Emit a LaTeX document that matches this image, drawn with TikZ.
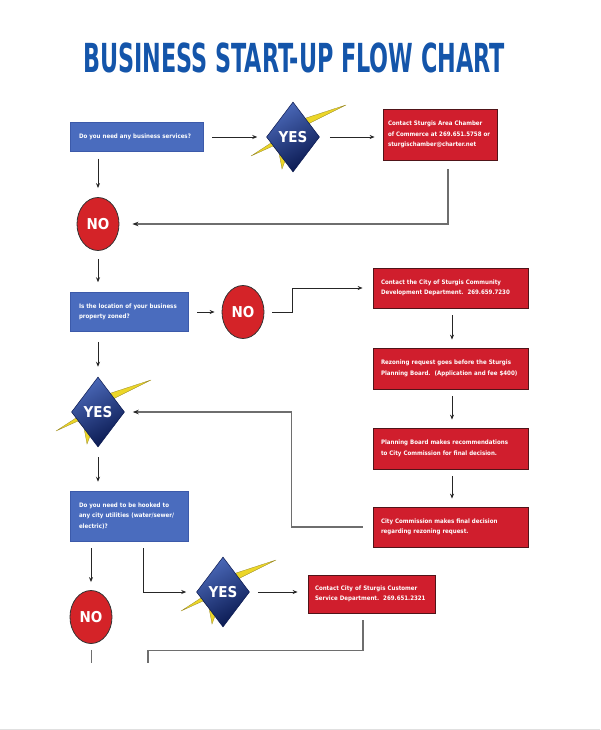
\documentclass[tikz,border=0pt]{standalone}
\usepackage{fontspec}
\setmainfont{DejaVu Sans Condensed}
\newfontfamily\titlefont[FakeStretch=0.62]{DejaVu Sans Condensed}
\usepackage{xcolor}
\usepackage{tikz}
\usetikzlibrary{arrows.meta}
\usetikzlibrary{positioning}
\usetikzlibrary{calc}
\usetikzlibrary{shapes.geometric}

\definecolor{titleblue}{RGB}{20,85,170}
\definecolor{qblue}{RGB}{74,108,190}
\definecolor{qedge}{RGB}{60,90,170}
\definecolor{cred}{RGB}{208,30,45}
\definecolor{cedge}{RGB}{80,20,25}
\definecolor{nored}{RGB}{212,35,40}
\definecolor{dialight}{RGB}{75,105,185}
\definecolor{diadark}{RGB}{10,25,80}
\definecolor{boltyellow}{RGB}{236,214,40}
\definecolor{boltedge}{RGB}{150,135,40}
\definecolor{backgray}{RGB}{110,110,110}

\begin{document}
\begin{tikzpicture}[x=1pt, y=-1pt,
		boxtext/.style={font=\bfseries\fontsize{6.1}{10.5}\selectfont, text=white, align=left, inner ysep=0pt},
		qbox/.style={boxtext, rectangle, draw=qedge, line width=0.5pt, fill=qblue, inner xsep=9pt},
		cbox/.style={boxtext, rectangle, draw=cedge, line width=0.8pt, fill=cred, inner xsep=8pt},
		nocirc/.style={ellipse, draw=black!80, line width=0.8pt, fill=nored, text=white, minimum width=42pt, minimum height=53pt, inner sep=0pt, font=\bfseries\fontsize{15}{15}\selectfont},
		yesdia/.style={diamond, draw=diadark, line width=0.5pt, top color=dialight, bottom color=diadark, shading angle=30, minimum width=53pt, minimum height=70pt, inner sep=0pt, text=white, font=\bfseries\fontsize{15}{15}\selectfont},
		bolt/.style={fill=boltyellow, draw=boltedge, line width=0.3pt},
		arr/.style={-{Stealth[length=5pt,width=4pt]}, line width=0.8pt, draw=black!85},
		back/.style={line width=1.2pt, draw=backgray},
		backarr/.style={back, -{Stealth[length=6pt,width=4.5pt,color=black!85]}}]
	\useasboundingbox (0,0) rectangle (600,730);

	\node[font=\titlefont\bfseries\fontsize{40}{40}\selectfont, text=titleblue] (title) at (294,57.5) {BUSINESS START-UP FLOW CHART};

	\foreach \iDia/\px/\py in {yes1/293/137, yes2/98/412, yes3/223/592}
	{
		\fill[bolt, shift={(\px,\py)}] (53,-32) -- (13,-19) -- (-22,6) -- (-42,19) -- (-20,9) -- (-14,16) -- (-11,32) -- (-8,24) -- (17,-14) -- cycle;
		\node[yesdia] (\iDia) at (\px,\py) {YES};
	}

	\node[qbox, text width=115pt, minimum height=29pt] (q1) at (136.5,137) {Do you need any business services?};
	\node[qbox, text width=100pt, minimum height=39pt] (q2) at (129,312) {Is the location of your business\\ property zoned?};
	\node[qbox, text width=100pt, minimum height=50pt] (q3) at (129,516) {Do you need to be hooked to\\ any city utilities (water/sewer/\\ electric)?};

	\node[nocirc] (no1) at (98,224) {NO};
	\node[nocirc] (no2) at (243,312) {NO};
	\node[nocirc] (no3) at (91,617) {NO};

	\node[cbox, inner xsep=5pt, text width=104pt, minimum height=51pt] (c1) at (440,134.5) {Contact Sturgis Area Chamber\\ of Commerce at 269.651.5758 or\\ sturgischamber@charter.net};
	\node[cbox, text width=139pt, minimum height=40pt] (c2) at (450.5,288) {Contact the City of Sturgis Community\\ Development Department.~~269.659.7230};
	\node[cbox, text width=139pt, minimum height=41pt] (c3) at (450.5,368.5) {Rezoning request goes before the Sturgis\\ Planning Board.~~(Application and fee \$400)};
	\node[cbox, text width=139pt, minimum height=41pt] (c4) at (450.5,448.5) {Planning Board makes recommendations\\ to City Commission for final decision.};
	\node[cbox, text width=139pt, minimum height=40pt] (c5) at (450.5,527) {City Commission makes final decision\\ regarding rezoning request.};
	\node[cbox, inner xsep=7pt, text width=113pt, minimum height=38pt] (c6) at (371.5,594) {Contact City of Sturgis Customer\\ Service Department.~~269.651.2321};

	\coordinate (no3out) at (91,663);
	\coordinate (c6out) at (148,663);

	\draw[arr, shorten <=9pt, shorten >=9pt] (q1.east) -- (yes1.west);
	\draw[arr, shorten <=10pt, shorten >=8pt] (yes1.east) -- (yes1.east -| c1.west);
	\draw[backarr, shorten <=9pt, shorten >=13pt] ([xshift=8pt]c1.south) |- (no1.east);
	\draw[arr, shorten <=7pt, shorten >=9pt] (q1.south -| no1) -- (no1.north);
	\draw[arr, shorten <=8pt, shorten >=10pt] (no1.south) -- (no1.south |- q2.north);
	\draw[arr, shorten <=9pt, shorten >=7pt] (q2.east) -- (no2.west);
	\draw[arr, shorten <=8pt, shorten >=10pt] (no2.east) -- ++(28,0) |- (c2.west);
	\foreach \iBox/\jBox in {c2/c3, c3/c4, c4/c5}
	{
		\draw[arr, shorten <=7pt, shorten >=8pt] ([xshift=1.5pt]\iBox.south) -- ([xshift=1.5pt]\jBox.north);
	}
	\draw[backarr, shorten <=10pt, shorten >=8pt] (c5.west) -- ++(-81,0) |- (yes2.east);
	\draw[arr, shorten <=10pt, shorten >=10pt] (q2.south -| yes2) -- (yes2.north);
	\draw[arr, shorten <=10pt, shorten >=9pt] (yes2.south) -- (yes2.south |- q3.north);
	\draw[arr, shorten <=7pt, shorten >=8pt] (q3.south -| no3) -- (no3.north);
	\draw[arr, shorten <=7pt, shorten >=10pt] ([xshift=14pt]q3.south) |- (yes3.west);
	\draw[arr, shorten <=8pt, shorten >=10pt] (yes3.east) -- (yes3.east -| c6.west);
	\draw[back, line width=1pt, shorten <=6pt] (no3.south) -- (no3out);
	\draw[back, shorten <=7pt] ([xshift=-8.5pt]c6.south) -- ++(0,37) -| (c6out);

	\draw[black!12, line width=1pt] (0,729) -- (600,729);
\end{tikzpicture}
\end{document}
